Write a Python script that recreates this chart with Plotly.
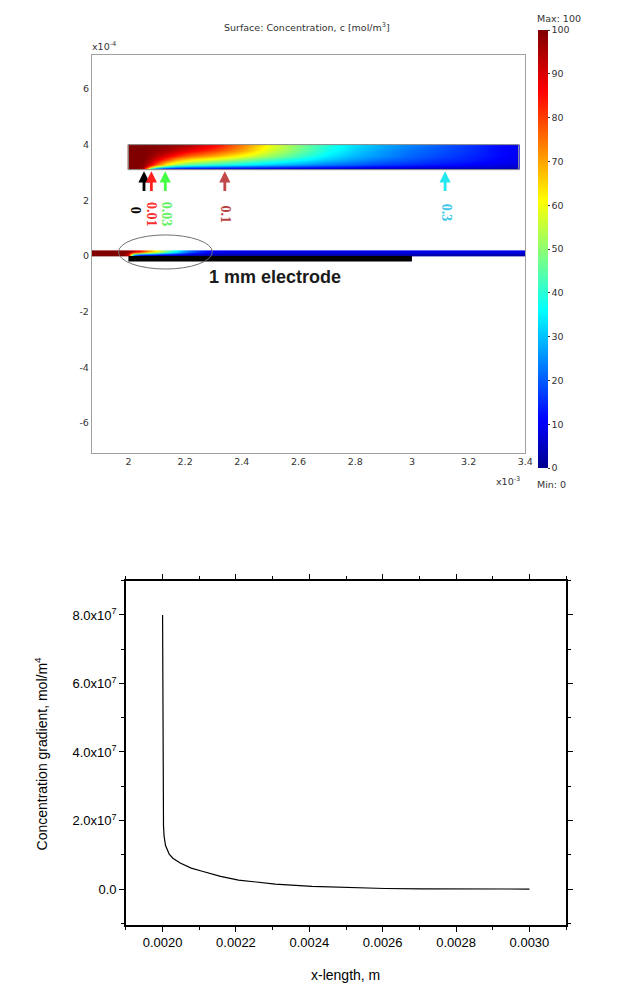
import plotly.graph_objects as go

W, H = 639, 986

# ---------------- top panel data (x in 1e-3 m, y in 1e-4 m) ----------------
channel_x = [2.0, 2.005, 2.03, 2.05, 2.065, 2.08, 2.1, 2.13, 2.17, 2.22, 2.3, 2.4,
             2.5, 2.6, 2.7, 2.8, 2.9, 3.0, 3.1, 3.2, 3.3, 3.37, 3.376]
channel_y = [3.1, 3.105, 3.13, 3.2, 3.3, 3.45, 3.6, 3.8, 3.995, 4.0]
channel_c = [
    [100, 100, 98, 85, 35, 8, 3, 2, 1, 1, 1, 1, 1, 1, 1, 1, 1, 1, 1, 1, 1, 1, 1],
    [100, 100, 98, 87, 40, 11, 5, 3, 2, 2, 2, 2, 1, 1, 1, 1, 1, 1, 1, 1, 1, 1, 1],
    [100, 100, 99, 95, 70, 38, 20, 13, 10, 9, 8, 8, 7, 6, 6, 5, 5, 4, 4, 4, 3, 3, 3],
    [100, 100, 100, 98, 88, 72, 52, 38, 30, 26, 24, 21, 19, 17, 15, 13, 11, 10, 9, 8, 7, 6, 6],
    [100, 100, 100, 99, 95, 88, 76, 62, 51, 45, 40, 36, 31, 27, 23, 20, 17, 15, 13, 11, 9, 8, 8],
    [100, 100, 100, 100, 98, 95, 89, 80, 70, 63, 57, 50, 43, 37, 31, 26, 22, 19, 16, 14, 11, 9, 9],
    [100, 100, 100, 100, 99, 98, 95, 90, 83, 76, 70, 61, 52, 43, 35, 29, 25, 21, 18, 15, 12, 10, 10],
    [100, 100, 100, 100, 100, 99, 98, 96, 92, 87, 80, 70, 57, 47, 38, 31, 26, 22, 19, 16, 12, 10, 10],
    [100, 100, 100, 100, 100, 100, 100, 99, 98, 95, 87, 74, 60, 49, 40, 33, 28, 24, 20, 16, 12, 10, 10],
    [100, 100, 100, 100, 100, 100, 100, 99, 98, 95, 87, 74, 60, 49, 40, 33, 28, 24, 20, 16, 12, 10, 10],
]

strip_x_edges = [1.86, 1.97, 1.99, 2.01, 2.03, 2.05, 2.07, 2.09, 2.11, 2.13, 2.15,
                 2.17, 2.19, 2.21, 2.24, 2.28, 2.34, 2.5, 3.0, 3.41]
strip_y_edges = [0.0, 0.1, 0.2]
strip_c = [
    [100, 100, 90, 20, 8, 5, 4, 3, 3, 3, 3, 3, 2, 2, 2, 2, 2, 2, 2],
    [100, 100, 98, 92, 84, 76, 68, 60, 52, 45, 38, 32, 26, 20, 14, 10, 9, 9, 9],
]

electrode_x = [2.0, 3.0]
electrode_y = [-0.2, 0.0]
ellipse_x = [1.965, 2.296]
ellipse_y = [-0.47, 0.755]
channel_box_x = [2.0, 3.376]
channel_box_y = [3.1, 4.0]

arrow_x = [2.055, 2.081, 2.13, 2.34, 3.117]
arrow_labels = ["0", "0.01", "0.03", "0.1", "0.3"]
arrow_colors = ["#000000", "#ff2020", "#44ff44", "#c04848", "#22e8f0"]
label_colors = ["#000000", "#ff3030", "#66f066", "#b84444", "#3cc8e8"]
label_x = [2.028, 2.084, 2.134, 2.343, 3.12]
label_y = [1.65, 1.5, 1.5, 1.5, 1.55]
arrow_tail_y = 2.28
arrow_tip_y = 3.04

top_xticks = [2.0, 2.2, 2.4, 2.6, 2.8, 3.0, 3.2, 3.4]
top_xticktext = ["2", "2.2", "2.4", "2.6", "2.8", "3", "3.2", "3.4"]
top_yticks = [-6, -4, -2, 0, 2, 4, 6]
top_yticktext = ["-6", "-4", "-2", "0", "2", "4", "6"]
cbar_ticks = [0, 10, 20, 30, 40, 50, 60, 70, 80, 90, 100]

# ---------------- bottom panel data ----------------
grad_x = [0.0020000, 0.0020003, 0.0020008, 0.0020015, 0.0020025, 0.0020040,
          0.002008, 0.002018, 0.002028, 0.002048, 0.002078, 0.002108, 0.002158,
          0.002207, 0.002257, 0.002307, 0.002407, 0.002506, 0.002606, 0.002706,
          0.002806, 0.0029, 0.0030]
grad_y = [8.0e7, 4.5e7, 3.0e7, 2.3e7, 1.85e7, 1.55e7,
          1.27e7, 1.02e7, 0.90e7, 0.76e7, 0.61e7, 0.52e7, 0.37e7,
          0.26e7, 0.195e7, 0.146e7, 0.078e7, 0.039e7, 0.015e7, 0.005e7,
          0.001e7, 0.0, 0.0]
bot_xticks = [0.0020, 0.0022, 0.0024, 0.0026, 0.0028, 0.0030]
bot_xticktext = ["0.0020", "0.0022", "0.0024", "0.0026", "0.0028", "0.0030"]
bot_yticks = [0, 2e7, 4e7, 6e7, 8e7]
bot_yticktext = ["0.0", "2.0x10<sup>7</sup>", "4.0x10<sup>7</sup>",
                 "6.0x10<sup>7</sup>", "8.0x10<sup>7</sup>"]

jet = [[0.0, "#00008f"], [0.11, "#0000ff"], [0.36, "#00ffff"],
       [0.61, "#ffff00"], [0.86, "#ff0000"], [1.0, "#800000"]]

def px(x):
    return x / W

def py(y):
    return 1 - y / H

COMSOL_FONT = "DejaVu Sans"
ARIAL = "Liberation Sans, Arial"

fig = go.Figure()

fig.add_trace(go.Heatmap(x=channel_x, y=channel_y, z=channel_c, coloraxis="coloraxis",
                         zsmooth="best", xaxis="x", yaxis="y", hoverinfo="skip"))
fig.add_trace(go.Heatmap(x=strip_x_edges, y=strip_y_edges, z=strip_c, coloraxis="coloraxis",
                         zsmooth="best", xaxis="x", yaxis="y", hoverinfo="skip"))
fig.add_trace(go.Scatter(x=grad_x, y=grad_y, mode="lines",
                         line=dict(color="black", width=1.2),
                         xaxis="x2", yaxis="y2", showlegend=False))

shapes = [
    dict(type="rect", xref="x", yref="y", x0=channel_box_x[0], x1=channel_box_x[1],
         y0=channel_box_y[0], y1=channel_box_y[1], line=dict(color="#8a8a8a", width=1)),
    dict(type="rect", xref="x", yref="y", x0=electrode_x[0], x1=electrode_x[1],
         y0=electrode_y[0], y1=electrode_y[1], fillcolor="black", line=dict(width=0)),
    dict(type="circle", xref="x", yref="y", x0=ellipse_x[0], x1=ellipse_x[1],
         y0=ellipse_y[0], y1=ellipse_y[1], line=dict(color="#707070", width=1)),
]

annotations = []
for xa, col in zip(arrow_x, arrow_colors):
    annotations.append(dict(x=xa, y=arrow_tip_y, ax=xa, ay=arrow_tail_y, xref="x", yref="y",
                            axref="x", ayref="y", showarrow=True, arrowhead=2,
                            arrowsize=0.8, arrowwidth=2.8, arrowcolor=col, text=""))
for lx, ly, lt, lc in zip(label_x, label_y, arrow_labels, label_colors):
    annotations.append(dict(x=lx, y=ly, xref="x", yref="y", text="<b>" + lt + "</b>",
                            showarrow=False, textangle=90, xanchor="center", yanchor="middle",
                            font=dict(family="Liberation Serif, Times New Roman", size=14, color=lc)))

paper_notes = [
    dict(x=278, y=277.5, text="<b>1 mm electrode</b>", xanchor="center",
         font=dict(family=ARIAL, size=18, color="#1a1a1a")),
    dict(x=311, y=27, text="Surface: Concentration, c [mol/m<sup>3</sup>]", xanchor="center",
         font=dict(family=COMSOL_FONT, size=9.5, color="#333")),
    dict(x=91, y=46, text="x10<sup>-4</sup>", xanchor="left",
         font=dict(family=COMSOL_FONT, size=9.5, color="#333")),
    dict(x=529, y=481, text="x10<sup>-3</sup>", xanchor="right",
         font=dict(family=COMSOL_FONT, size=9.5, color="#333")),
    dict(x=542, y=19, text="Max: 100", xanchor="left",
         font=dict(family=COMSOL_FONT, size=9.5, color="#333")),
    dict(x=542, y=485, text="Min: 0", xanchor="left",
         font=dict(family=COMSOL_FONT, size=9.5, color="#333")),
    dict(x=42, y=753, text="Concentration gradient, mol/m<sup>4</sup>", xanchor="center",
         textangle=-90, font=dict(family=ARIAL, size=14, color="black")),
    dict(x=350, y=975, text="x-length, m", xanchor="center",
         font=dict(family=ARIAL, size=14, color="black")),
]
for a in paper_notes:
    a.update(xref="paper", yref="paper", x=px(a["x"]), y=py(a["y"]),
             yanchor="middle", showarrow=False)
    annotations.append(a)

fig.update_layout(
    width=W, height=H, margin=dict(l=0, r=0, t=0, b=0),
    paper_bgcolor="white", plot_bgcolor="white", showlegend=False,
    coloraxis=dict(colorscale=jet, cmin=0, cmax=100,
                   colorbar=dict(x=px(544.5), xanchor="left", y=py(249), yanchor="middle",
                                 len=438 / H, lenmode="fraction", thickness=10,
                                 thicknessmode="pixels", tickvals=cbar_ticks,
                                 ticks="outside", ticklen=2, tickcolor="#333",
                                 tickfont=dict(family=COMSOL_FONT, size=9.5, color="#333"),
                                 outlinewidth=0, xpad=0, ypad=0)),
    xaxis=dict(domain=[px(93), px(532)], range=[1.871, 3.4], anchor="y",
               tickvals=top_xticks, ticktext=top_xticktext, showgrid=False, zeroline=False,
               showline=True, mirror=True, linecolor="#a0a0a0", linewidth=1, ticks="",
               tickfont=dict(family=COMSOL_FONT, size=9.5, color="#333")),
    yaxis=dict(domain=[py(453), py(55)], range=[-7.08, 7.22], anchor="x",
               tickvals=top_yticks, ticktext=top_yticktext, showgrid=False, zeroline=False,
               showline=True, mirror=True, linecolor="#a0a0a0", linewidth=1, ticks="",
               tickfont=dict(family=COMSOL_FONT, size=9.5, color="#333")),
    xaxis2=dict(domain=[px(127.5), px(573.3)], range=[0.0019, 0.0031], anchor="y2",
                tickvals=bot_xticks, ticktext=bot_xticktext, showgrid=False, zeroline=False,
                showline=True, mirror="ticks", linecolor="black", linewidth=1.5,
                ticks="outside", ticklen=5, tickwidth=1, tickcolor="black",
                minor=dict(tick0=0.0019, dtick=0.0001, ticks="outside", ticklen=3,
                           tickcolor="black", showgrid=False),
                tickfont=dict(family=ARIAL, size=13, color="black")),
    yaxis2=dict(domain=[py(925), py(580.7)], range=[-1.05e7, 9e7], anchor="x2",
                tickvals=bot_yticks, ticktext=bot_yticktext, showgrid=False, zeroline=False,
                showline=True, mirror="ticks", linecolor="black", linewidth=1.5,
                ticks="outside", ticklen=5, tickwidth=1, tickcolor="black",
                minor=dict(tick0=0, dtick=1e7, ticks="outside", ticklen=3,
                           tickcolor="black", showgrid=False),
                tickfont=dict(family=ARIAL, size=13, color="black")),
    shapes=shapes, annotations=annotations,
)

fig.write_html("out.html")
